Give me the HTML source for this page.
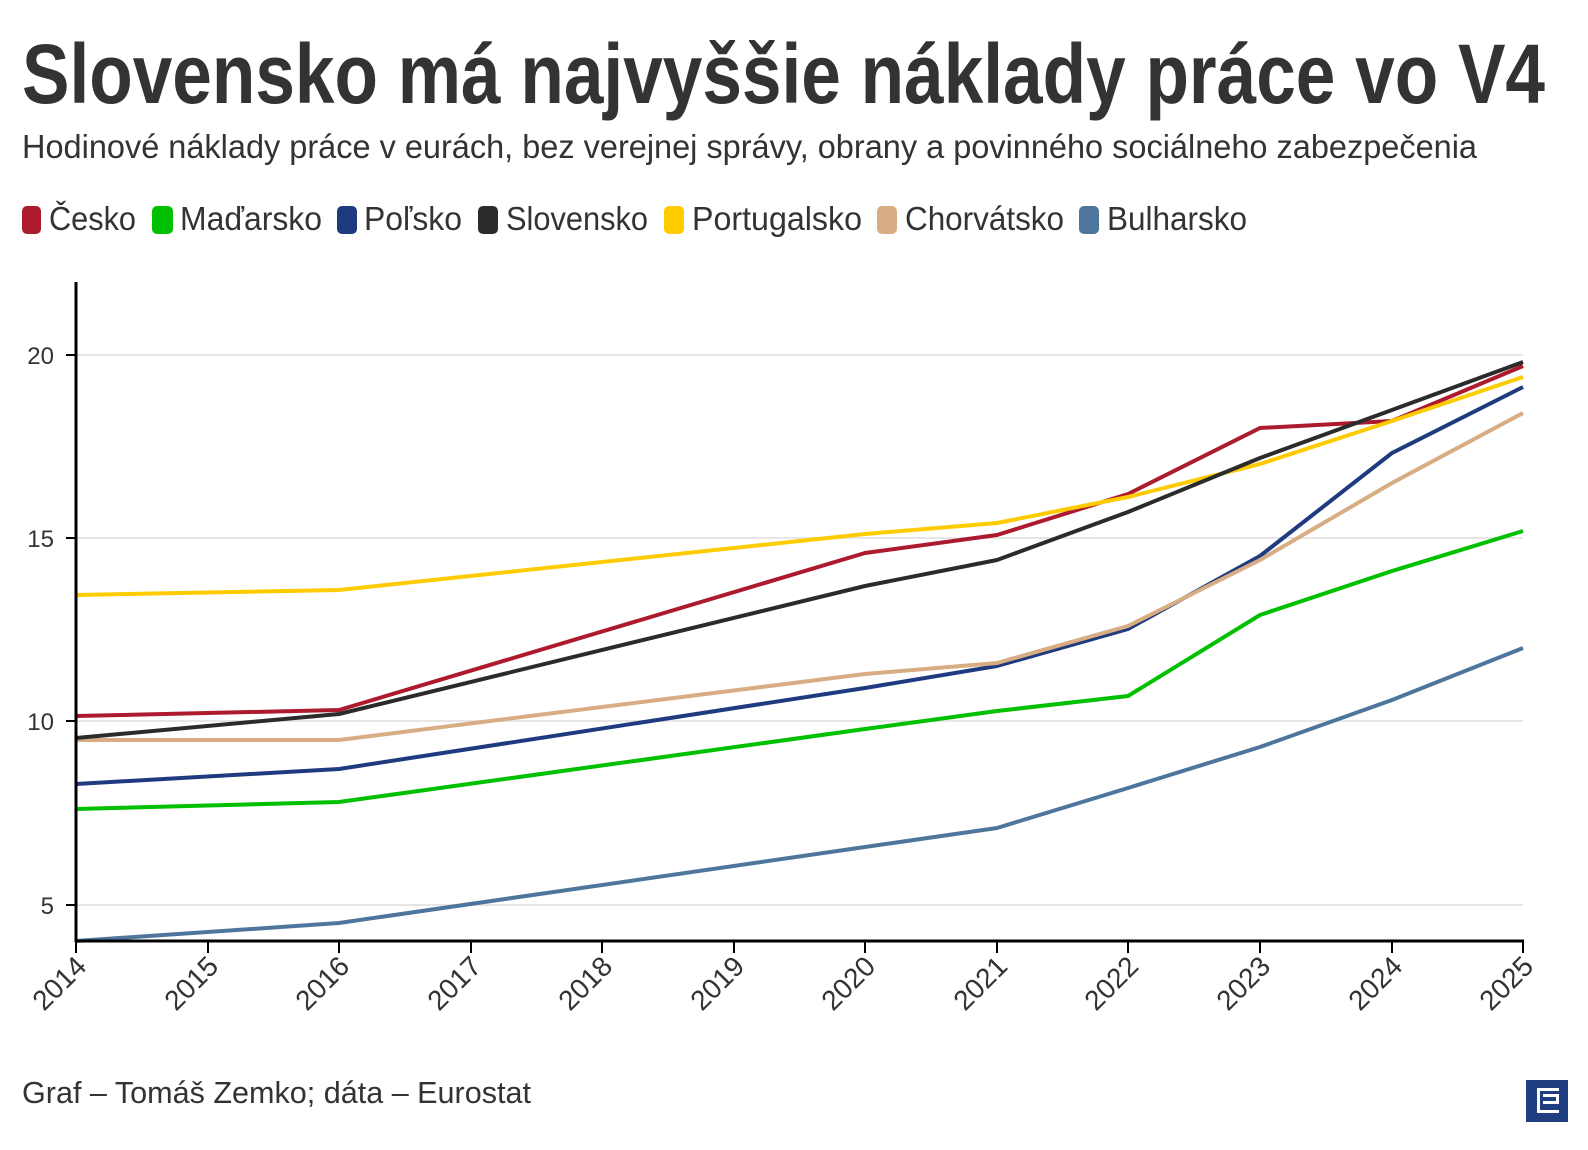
<!DOCTYPE html>
<html><head><meta charset="utf-8"><style>
html,body{margin:0;padding:0;background:#fff;}
svg{display:block;font-family:"Liberation Sans Narrow","Liberation Sans",sans-serif;}
</style></head><body>
<svg width="1588" height="1150" viewBox="0 0 1588 1150" xmlns="http://www.w3.org/2000/svg">
<text x="22" y="103" font-size="84" font-weight="bold" fill="#333" textLength="1523" lengthAdjust="spacingAndGlyphs">Slovensko má najvyššie náklady práce vo V4</text>
<text x="22" y="158" font-size="33" fill="#333" textLength="1455" lengthAdjust="spacingAndGlyphs">Hodinové náklady práce v eurách, bez verejnej správy, obrany a povinného sociálneho zabezpečenia</text>
<g font-size="33" fill="#333">
<rect x="22" y="206" width="19" height="28" rx="5" fill="#ad1a2e"/><text x="49" y="230" textLength="87" lengthAdjust="spacingAndGlyphs">Česko</text>
<rect x="152" y="206" width="21" height="28" rx="5" fill="#00c000"/><text x="180" y="230" textLength="142" lengthAdjust="spacingAndGlyphs">Maďarsko</text>
<rect x="337" y="206" width="20" height="28" rx="5" fill="#1f3b80"/><text x="364" y="230" textLength="98" lengthAdjust="spacingAndGlyphs">Poľsko</text>
<rect x="478" y="206" width="20" height="28" rx="5" fill="#2b2b2b"/><text x="506" y="230" textLength="142" lengthAdjust="spacingAndGlyphs">Slovensko</text>
<rect x="664" y="206" width="20" height="28" rx="5" fill="#fdcb00"/><text x="692" y="230" textLength="170" lengthAdjust="spacingAndGlyphs">Portugalsko</text>
<rect x="877" y="206" width="20" height="28" rx="5" fill="#d8ad84"/><text x="905" y="230" textLength="159" lengthAdjust="spacingAndGlyphs">Chorvátsko</text>
<rect x="1079" y="206" width="20" height="28" rx="5" fill="#4e769c"/><text x="1107" y="230" textLength="140" lengthAdjust="spacingAndGlyphs">Bulharsko</text>
</g>
<g stroke="#e6e6e6" stroke-width="2">
<line x1="76" x2="1523" y1="355" y2="355"/><line x1="76" x2="1523" y1="538" y2="538"/><line x1="76" x2="1523" y1="721" y2="721"/><line x1="76" x2="1523" y1="905" y2="905"/>
</g>
<g font-size="24" fill="#333" text-anchor="end">
<text x="54" y="364">20</text><text x="54" y="547">15</text><text x="54" y="730">10</text><text x="54" y="914">5</text>
</g>
<g stroke="#000" stroke-width="2">
<line x1="66" x2="76" y1="355" y2="355"/><line x1="66" x2="76" y1="538" y2="538"/><line x1="66" x2="76" y1="721" y2="721"/><line x1="66" x2="76" y1="905" y2="905"/>
</g>
<g fill="none" stroke-width="4" stroke-linejoin="round">
<polyline stroke="#4e769c" points="76,941 339,923 865,847 997,828 1128,788 1260,747 1392,700 1523,648"/>
<polyline stroke="#00c000" points="76,809 339,802 865,729 997,711 1128,696 1260,615 1392,571 1523,531"/>
<polyline stroke="#1f3b80" points="76,784 339,769 865,688 997,666 1128,629 1260,556 1392,453 1523,387"/>
<polyline stroke="#d8ad84" points="76,740 339,740 865,674 997,663 1128,626 1260,560 1392,483 1523,413"/>
<polyline stroke="#ad1a2e" points="76,716 339,710 865,553 997,535 1128,494 1260,428 1392,421 1523,366"/>
<polyline stroke="#fdcb00" points="76,595 339,590 865,534 997,523 1128,497 1260,464 1392,421 1523,377"/>
<polyline stroke="#2b2b2b" points="76,738 339,714 865,586 997,560 1128,512 1260,458 1392,410 1523,362"/>
</g>
<line x1="76" y1="282" x2="76" y2="942" stroke="#000" stroke-width="3"/>
<line x1="75" y1="941" x2="1524" y2="941" stroke="#000" stroke-width="3"/>
<g stroke="#000" stroke-width="2">
<line x1="76" x2="76" y1="941" y2="953"/><line x1="208" x2="208" y1="941" y2="953"/><line x1="339" x2="339" y1="941" y2="953"/><line x1="471" x2="471" y1="941" y2="953"/><line x1="602" x2="602" y1="941" y2="953"/><line x1="734" x2="734" y1="941" y2="953"/><line x1="865" x2="865" y1="941" y2="953"/><line x1="997" x2="997" y1="941" y2="953"/><line x1="1128" x2="1128" y1="941" y2="953"/><line x1="1260" x2="1260" y1="941" y2="953"/><line x1="1392" x2="1392" y1="941" y2="953"/><line x1="1523" x2="1523" y1="941" y2="953"/>
</g>
<g font-size="28" fill="#333" text-anchor="end">
<text transform="translate(88,968) rotate(-45)">2014</text>
<text transform="translate(220,968) rotate(-45)">2015</text>
<text transform="translate(351,968) rotate(-45)">2016</text>
<text transform="translate(483,968) rotate(-45)">2017</text>
<text transform="translate(614,968) rotate(-45)">2018</text>
<text transform="translate(746,968) rotate(-45)">2019</text>
<text transform="translate(877,968) rotate(-45)">2020</text>
<text transform="translate(1009,968) rotate(-45)">2021</text>
<text transform="translate(1140,968) rotate(-45)">2022</text>
<text transform="translate(1272,968) rotate(-45)">2023</text>
<text transform="translate(1404,968) rotate(-45)">2024</text>
<text transform="translate(1535,968) rotate(-45)">2025</text>
</g>
<text x="22" y="1103" font-size="31" fill="#333" textLength="509" lengthAdjust="spacingAndGlyphs">Graf – Tomáš Zemko; dáta – Eurostat</text>
<rect x="1526" y="1080" width="42" height="42" fill="#1f3f80"/>
<path d="M1537,1088 h22 v3 h-19 v19 h19 v3 h-22 z M1543,1094 h16 v10 h-16 v-3 h13 v-4 h-13 z" fill="#fff"/>
</svg>
</body></html>
